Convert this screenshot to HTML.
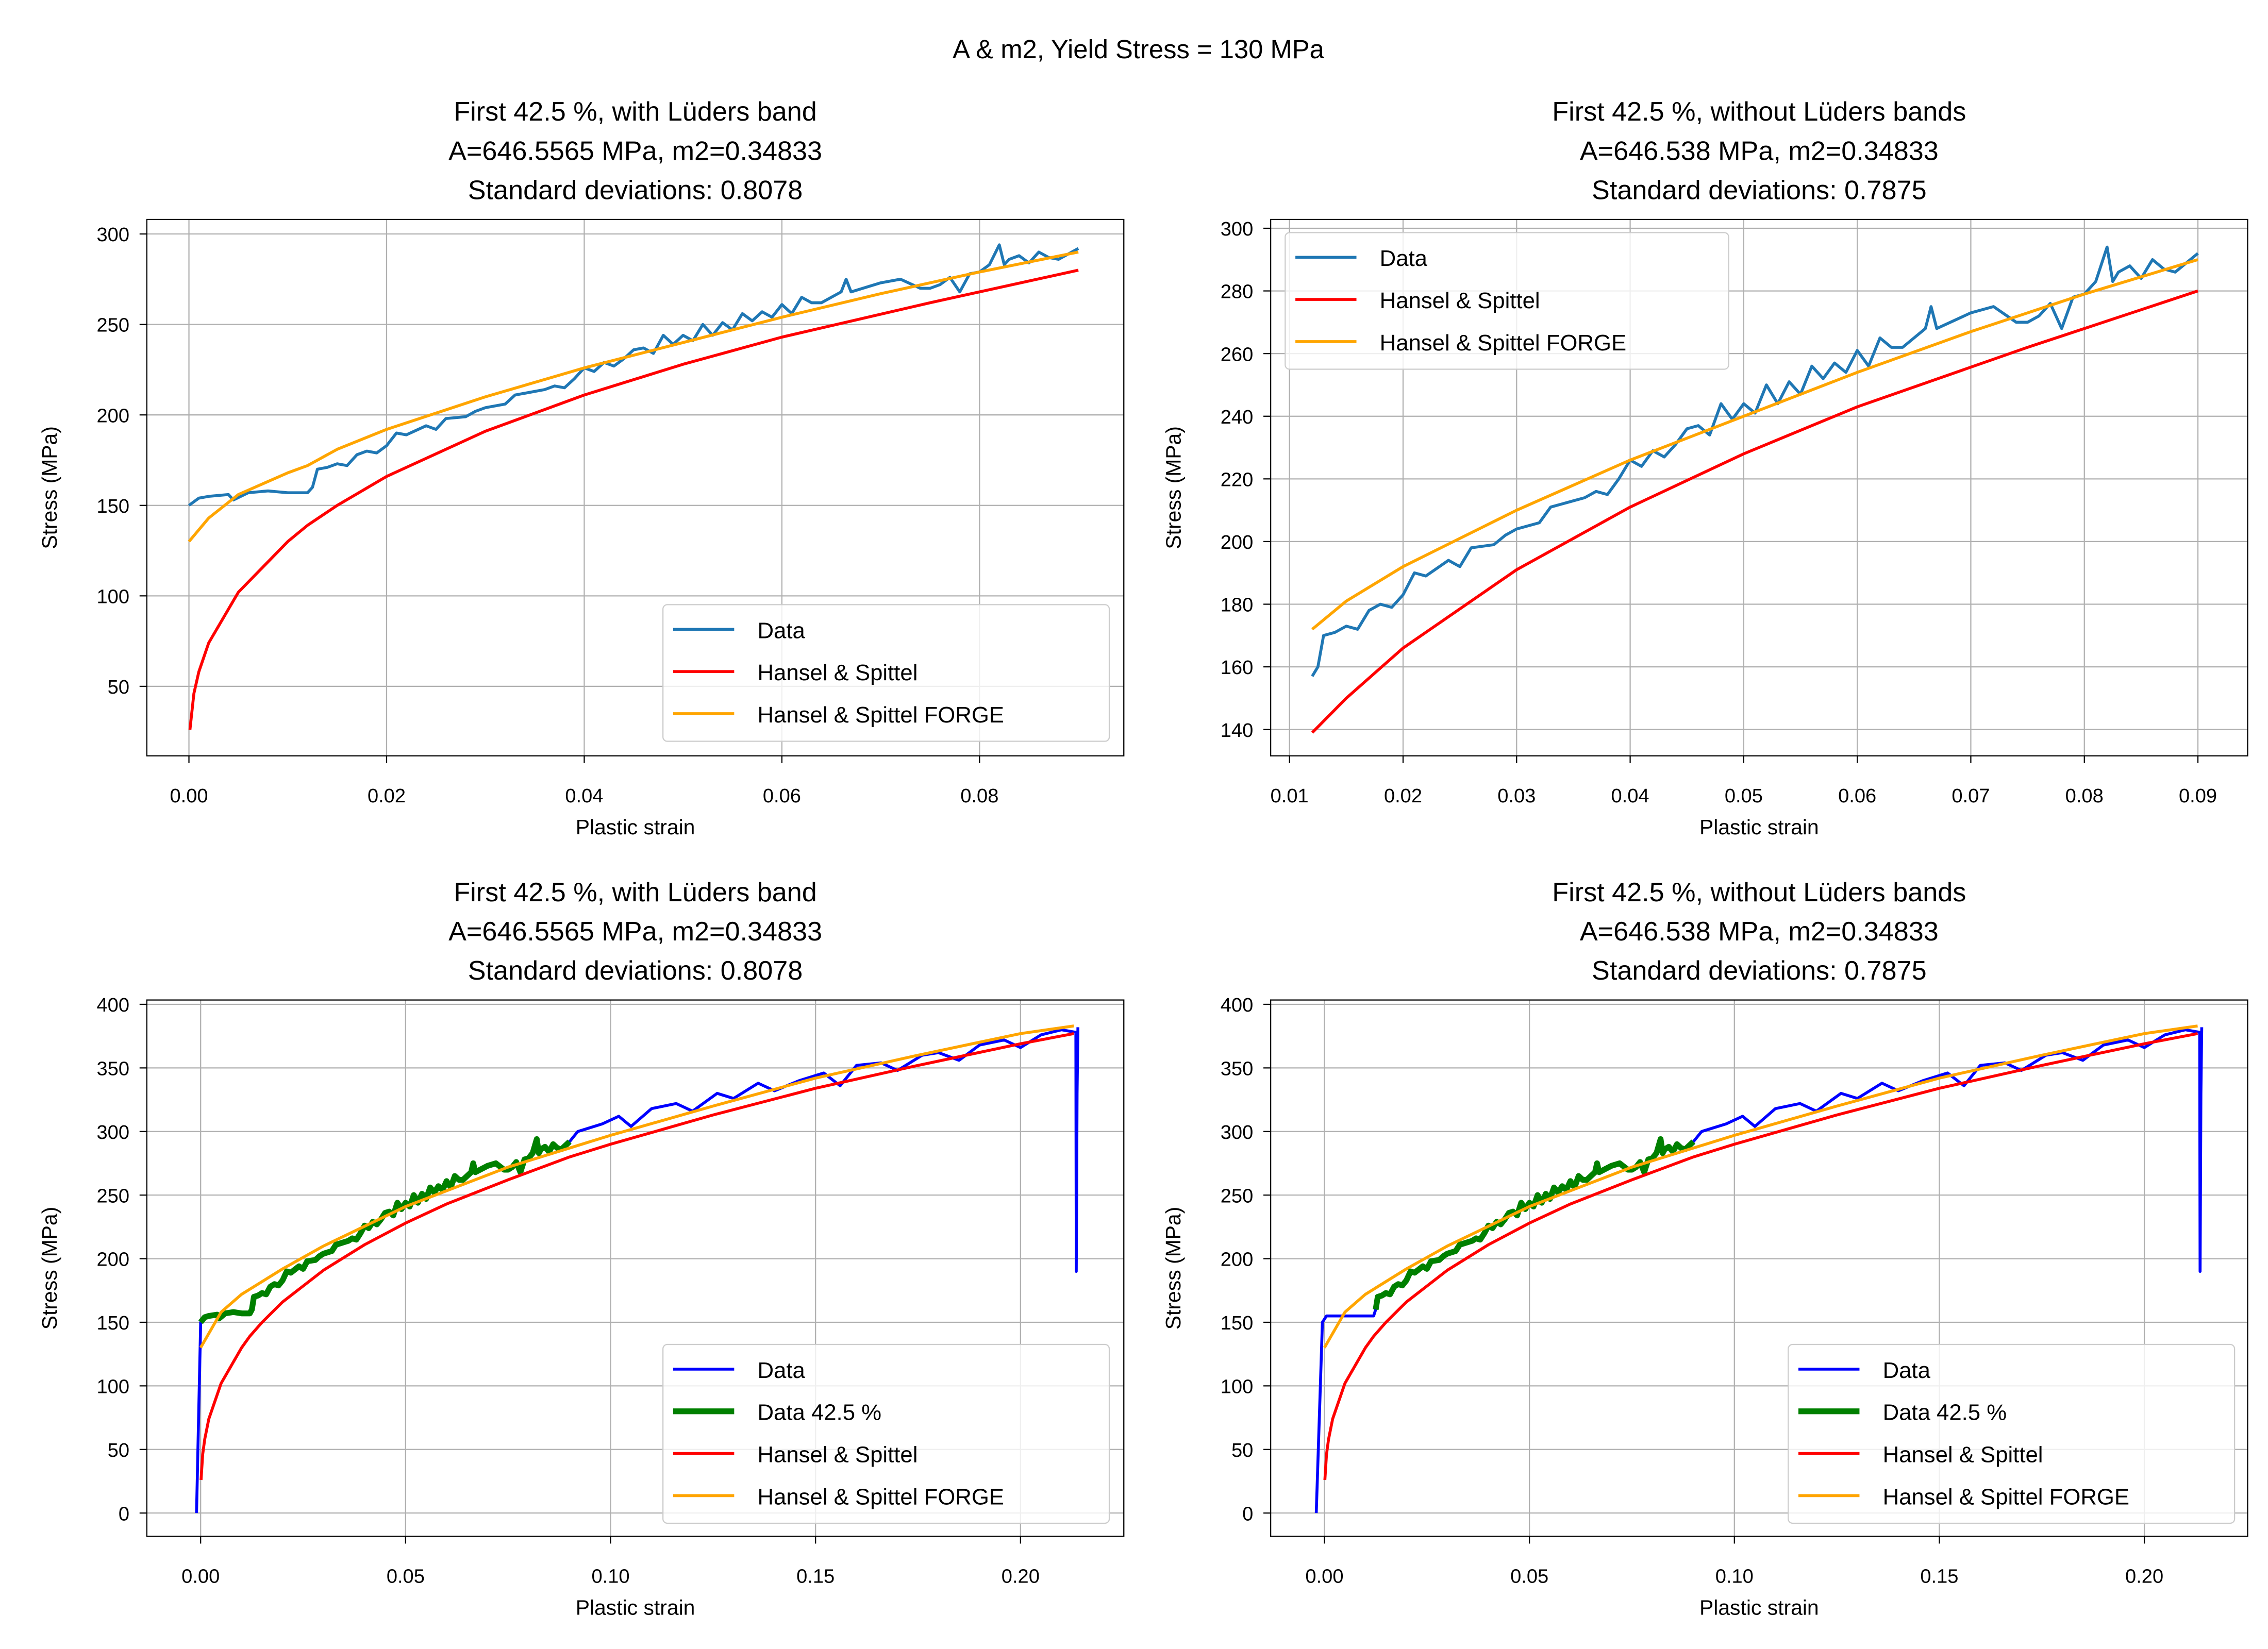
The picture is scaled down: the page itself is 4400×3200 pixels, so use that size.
<!DOCTYPE html>
<html><head><meta charset="utf-8">
<style>
html,body{margin:0;padding:0;background:#fff;}
svg{display:block;font-family:"Liberation Sans","DejaVu Sans",sans-serif;}
</style></head>
<body>
<svg id="fig" width="4400" height="3200" viewBox="0 0 1560 1134.5" xmlns="http://www.w3.org/2000/svg">
<rect width="1560" height="1134.5" fill="#fff"/>
<text x="783" y="40" font-size="18" text-anchor="middle">A &amp; m2, Yield Stress = 130 MPa</text>
</svg>
<script>
// ---- data (strain, stress) ----
const dataStrainTop = [0,0.001,0.002,0.004,0.0045,0.006,0.008,0.010,0.012,0.0125,0.013,0.014,0.015,0.016,0.017,0.018,0.019,0.020,0.021,0.022,0.024,0.025,0.026,0.028,0.029,0.030,0.032,0.033,0.034,0.036,0.037,0.038,0.039,0.040,0.041,0.042,0.043,0.044,0.045,0.046,0.047,0.048,0.049,0.050,0.051,0.052,0.053,0.054,0.055,0.056,0.057,0.058,0.059,0.060,0.061,0.062,0.063,0.064,0.065,0.066,0.0665,0.067,0.070,0.072,0.074,0.075,0.076,0.077,0.078,0.079,0.080,0.081,0.082,0.0825,0.083,0.084,0.085,0.086,0.087,0.088,0.089,0.090];
const dataStressTop = [150,154,155,156,153,157,158,157,157,160,170,171,173,172,178,180,179,183,190,189,194,192,198,199,202,204,206,211,212,214,216,215,220,226,224,229,227,231,236,237,234,244,239,244,241,250,244,251,247,256,252,257,254,261,256,265,262,262,265,268,275,268,273,275,270,270,272,276,268,278,279,283,294,283,286,288,284,290,287,286,289,292];
const dataStressBottomTail = [300,306,312,304,318,322,316,330,326,338,332,340,346,336,352,354,348,360,362,356,368,372,366,376,380,378,190,330,382];
const dataStrainBottomTail = [0.092,0.098,0.102,0.105,0.11,0.116,0.12,0.126,0.13,0.136,0.14,0.146,0.152,0.156,0.16,0.166,0.17,0.176,0.18,0.185,0.19,0.196,0.2,0.205,0.21,0.2135,0.2136,0.2138,0.214];
const redStrain = [0.0001,0.0005,0.001,0.002,0.005,0.01,0.012,0.015,0.02,0.03,0.04,0.05,0.06,0.075,0.08,0.09,0.1,0.125,0.15,0.175,0.2,0.213];
const redStress = [26,46,58,74,102,130,139,150,166,191,211,228,243,262,268,280,290,313,334,352,369,377];
const orangeStrainTop = [0,0.002,0.005,0.01,0.012,0.015,0.02,0.03,0.04,0.05,0.06,0.07,0.08,0.09];
const orangeStressTop = [130,143,156,168,172,181,192,210,226,240,254,267,279,290];
const orangeStrainBottom = [0,0.005,0.01,0.02,0.03,0.05,0.075,0.1,0.125,0.15,0.175,0.2,0.213];
const orangeStressBottom = [130,158,172,192,210,241,272,297,320,342,360,377,383];
const xTicksTopL = [0,0.02,0.04,0.06,0.08];
const xTickLabelsTopL = ["0.00","0.02","0.04","0.06","0.08"];
const yTicksTopL = [50,100,150,200,250,300];
const xTicksTopR = [0.01,0.02,0.03,0.04,0.05,0.06,0.07,0.08,0.09];
const xTickLabelsTopR = ["0.01","0.02","0.03","0.04","0.05","0.06","0.07","0.08","0.09"];
const yTicksTopR = [140,160,180,200,220,240,260,280,300];
const xTicksBot = [0,0.05,0.10,0.15,0.20];
const xTickLabelsBot = ["0.00","0.05","0.10","0.15","0.20"];
const yTicksBot = [0,50,100,150,200,250,300,350,400];

const NS = "http://www.w3.org/2000/svg";
const svg = document.getElementById('fig');
function el(tag, attrs, parent){const e=document.createElementNS(NS,tag);for(const k in attrs)e.setAttribute(k,attrs[k]);(parent||svg).appendChild(e);return e;}
function filt(xs,ys,lo,hi){const X=[],Y=[];for(let i=0;i<xs.length;i++){if(xs[i]>=lo&&xs[i]<=hi){X.push(xs[i]);Y.push(ys[i]);}}return [X,Y];}

function panel(c){
  const g=el('g',{});
  
  
  const sx=v=>c.L+(v-c.xmin)/(c.xmax-c.xmin)*(c.R-c.L);
  const sy=v=>c.B-(v-c.ymin)/(c.ymax-c.ymin)*(c.B-c.T);
  const cx=(c.L+c.R)/2;
  c.titles.forEach((t,i)=>{const e=el('text',{x:cx,y:c.T-68+i*27,'font-size':18.5,'text-anchor':'middle'},g);e.textContent=t;
    });
  c.xt.forEach((v,i)=>{const x=sx(v);
    const gl=el('line',{x1:x,x2:x,y1:c.T,y2:c.B,stroke:'#b0b0b0','stroke-width':0.8},g);
    
    el('line',{x1:x,x2:x,y1:c.B,y2:c.B+5,stroke:'#000','stroke-width':0.8},g);
    const t=el('text',{x:x,y:c.B+32,'font-size':13.5,'text-anchor':'middle'},g);t.textContent=c.xl[i];
    });
  c.yt.forEach(v=>{const y=sy(v);
    const gl=el('line',{x1:c.L,x2:c.R,y1:y,y2:y,stroke:'#b0b0b0','stroke-width':0.8},g);
    
    el('line',{x1:c.L-5,x2:c.L,y1:y,y2:y,stroke:'#000','stroke-width':0.8},g);
    const t=el('text',{x:c.L-12,y:y+5,'font-size':13.5,'text-anchor':'end'},g);t.textContent=String(v);
    });
  const clipId='clip'+c.name;
  const cp=el('clipPath',{id:clipId},g);el('rect',{x:c.L,y:c.T,width:c.R-c.L,height:c.B-c.T},cp);
  const sg=el('g',{'clip-path':'url(#'+clipId+')'},g);
  c.series.forEach(s=>{
    const d=s.x.map((v,i)=>(i?'L':'M')+sx(v).toFixed(2)+','+sy(s.y[i]).toFixed(2)).join(' ');
    const p=el('path',{d:d,fill:'none',stroke:s.color,'stroke-width':s.w,'stroke-linejoin':'round'},sg);
    });
  const fr=el('rect',{x:c.L,y:c.T,width:c.R-c.L,height:c.B-c.T,fill:'none',stroke:'#000','stroke-width':0.8},g);
  
  const xl=el('text',{x:cx,y:c.B+54,'font-size':14.5,'text-anchor':'middle'},g);xl.textContent='Plastic strain';
  
  const ym=(c.T+c.B)/2, yx=c.L-62;
  const yl=el('text',{x:yx,y:ym,'font-size':14.5,'text-anchor':'middle',transform:'rotate(-90 '+yx+' '+ym+')'},g);yl.textContent='Stress (MPa)';
  
  // legend
  const lg=el('g',{},g);
  
  const n=c.legend.length;
  el('rect',{x:c.lx,y:c.ly,width:c.lw,height:n*29+7,rx:3,fill:'#fff','fill-opacity':0.8,stroke:'#cccccc','stroke-width':0.8},lg);
  c.legend.forEach((e,i)=>{const y=c.ly+17+i*29;
    const ln=el('line',{x1:c.lx+7,x2:c.lx+49,y1:y,y2:y,stroke:e.color,'stroke-width':e.w},lg);
    
    const t=el('text',{x:c.lx+65,y:y+6,'font-size':15.5},lg);t.textContent=e.label;
    });
}

const t1=["First 42.5 %, with Lüders band","A=646.5565 MPa, m2=0.34833","Standard deviations: 0.8078"];
const t2=["First 42.5 %, without Lüders bands","A=646.538 MPa, m2=0.34833","Standard deviations: 0.7875"];
const [rTx,rTy]=filt(redStrain,redStress,0,0.091);
const [rRx,rRy]=filt(redStrain,redStress,0.012,0.091);
const [oRx,oRy]=filt(orangeStrainTop,orangeStressTop,0.012,0.091);
const [dRx,dRy]=filt(dataStrainTop,dataStressTop,0.012,0.091);
const bx=[-0.001,0].concat(dataStrainTop,dataStrainBottomTail);
const by=[0,148].concat(dataStressTop,dataStressBottomTail);
const bx2=[-0.002,-0.0005,0.0005].concat(dataStrainTop.slice(1),dataStrainBottomTail);
const by2=[0,150,155].concat(dataStressTop.map((v,i)=>dataStrainTop[i]<0.0125?155:v).slice(1),dataStressBottomTail);
const [gx2,gy2]=filt(dataStrainTop,dataStressTop,0.0125,0.091);

panel({name:'panel-top-left',L:101,R:773,T:151,B:520,xmin:-0.00426,xmax:0.0946,ymin:11.6,ymax:308,
  titles:t1,xt:xTicksTopL,xl:xTickLabelsTopL,yt:yTicksTopL,
  series:[{x:dataStrainTop,y:dataStressTop,color:'#1f77b4',w:2,dname:'data-line'},
          {x:rTx,y:rTy,color:'#ff0000',w:2,dname:'hansel-spittel-line'},
          {x:orangeStrainTop,y:orangeStressTop,color:'#ffa500',w:2,dname:'forge-line'}],
  lx:456,ly:416,lw:307,
  legend:[{label:'Data',color:'#1f77b4',w:2},{label:'Hansel & Spittel',color:'#ff0000',w:2},{label:'Hansel & Spittel FORGE',color:'#ffa500',w:2}]});
panel({name:'panel-top-right',L:874,R:1546,T:151,B:520,xmin:0.00834,xmax:0.09438,ymin:131.6,ymax:302.8,
  titles:t2,xt:xTicksTopR,xl:xTickLabelsTopR,yt:yTicksTopR,
  series:[{x:dRx,y:dRy,color:'#1f77b4',w:2,dname:'data-line'},
          {x:rRx,y:rRy,color:'#ff0000',w:2,dname:'hansel-spittel-line'},
          {x:oRx,y:oRy,color:'#ffa500',w:2,dname:'forge-line'}],
  lx:884,ly:160,lw:305,
  legend:[{label:'Data',color:'#1f77b4',w:2},{label:'Hansel & Spittel',color:'#ff0000',w:2},{label:'Hansel & Spittel FORGE',color:'#ffa500',w:2}]});
const legB=[{label:'Data',color:'#0000ff',w:2},{label:'Data 42.5 %',color:'#008000',w:4},{label:'Hansel & Spittel',color:'#ff0000',w:2},{label:'Hansel & Spittel FORGE',color:'#ffa500',w:2}];
panel({name:'panel-bottom-left',L:101,R:773,T:688,B:1057,xmin:-0.01312,xmax:0.2252,ymin:-18.3,ymax:403.4,
  titles:t1,xt:xTicksBot,xl:xTickLabelsBot,yt:yTicksBot,
  series:[{x:bx,y:by,color:'#0000ff',w:2,dname:'data-line'},
          {x:dataStrainTop,y:dataStressTop,color:'#008000',w:4,dname:'data-42-line'},
          {x:redStrain,y:redStress,color:'#ff0000',w:2,dname:'hansel-spittel-line'},
          {x:orangeStrainBottom,y:orangeStressBottom,color:'#ffa500',w:2,dname:'forge-line'}],
  lx:456,ly:925,lw:307,legend:legB});
panel({name:'panel-bottom-right',L:874,R:1546,T:688,B:1057,xmin:-0.01312,xmax:0.2252,ymin:-18.3,ymax:403.4,
  titles:t2,xt:xTicksBot,xl:xTickLabelsBot,yt:yTicksBot,
  series:[{x:bx2,y:by2,color:'#0000ff',w:2,dname:'data-line'},
          {x:gx2,y:gy2,color:'#008000',w:4,dname:'data-42-line'},
          {x:redStrain,y:redStress,color:'#ff0000',w:2,dname:'hansel-spittel-line'},
          {x:orangeStrainBottom,y:orangeStressBottom,color:'#ffa500',w:2,dname:'forge-line'}],
  lx:1230,ly:925,lw:307,legend:legB});
</script>
</body></html>
